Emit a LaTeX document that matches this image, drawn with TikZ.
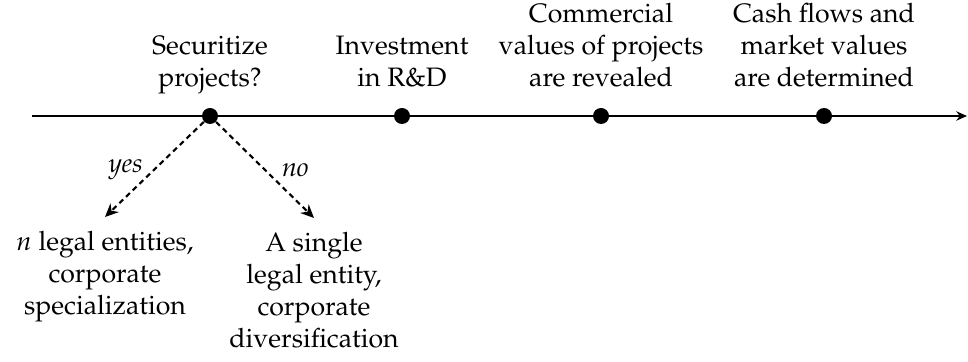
\documentclass[tikz,border=0pt]{standalone}
\usepackage[T1]{fontenc}
\usepackage{amsmath,amssymb}
\usepackage{mathpazo}
\usetikzlibrary{arrows.meta,positioning}

\begin{document}
\begin{tikzpicture}[x=0.375pt,y=-0.375pt,
    event/.style={circle,fill,inner sep=0pt,minimum size=6pt},
    stage/.style={align=center,inner sep=0pt,text depth=0pt},
    outcome/.style={align=center,anchor=north,inner xsep=0pt,inner ysep=5pt},
    choice/.style={line width=0.8pt,dash pattern=on 2pt off 1.5pt,-{Stealth[length=5pt,width=4.5pt]}}]
  \useasboundingbox (0,0) rectangle (968,362);

  % time line
  \node[coordinate] (start) at (32,116) {};
  \node[coordinate] (end) at (967,116) {};
  \draw[line width=0.6pt,-{Stealth[length=4pt,width=3.5pt]}] (start) -- (end);

  \node[event] (sec) at (210,116) {};
  \node[event] (inv) at (402,116) {};
  \node[event] (rev) at (601,116) {};
  \node[event] (cash) at (824,116) {};

  \node[stage,above=7.5pt of sec] (secT) {Securitize\\projects?};
  \node[stage,above=7.5pt of inv] (invT) {Investment\\in R\&D};
  \node[stage,above=7.5pt of rev] (revT) {Commercial\\values of projects\\are revealed};
  \node[stage,above=7.5pt of cash] (cashT) {Cash flows and\\market values\\are determined};

  % the two choices
  \node[outcome] (spec) at (105,217) {$n$ legal entities,\\corporate\\specialization};
  \node[outcome] (div) at (314,218) {A single\\legal entity,\\corporate\\diversification};

  \draw[choice] (sec) -- node[pos=.5,left,inner sep=4pt] (yes) {\textit{yes}} (spec.north);
  \draw[choice] (sec) -- node[pos=.5,right,inner sep=6pt] (no) {\textit{no}} (div.north);
\end{tikzpicture}
\end{document}
